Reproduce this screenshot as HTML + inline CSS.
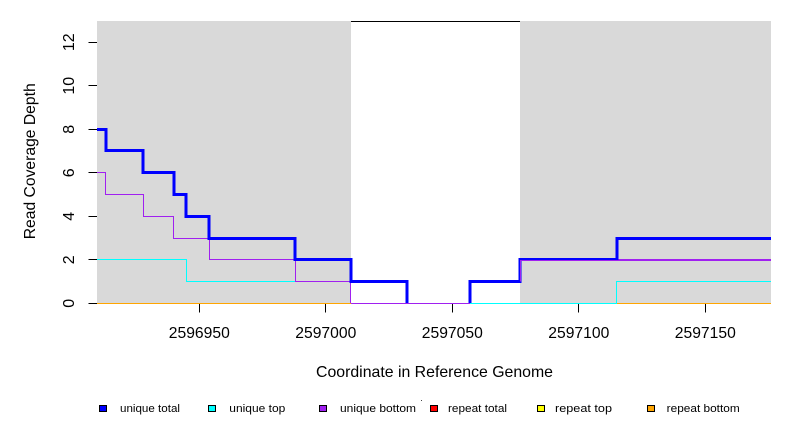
<!DOCTYPE html>
<html>
<head>
<meta charset="utf-8">
<style>
html,body{margin:0;padding:0;background:#fff;}
svg{display:block;}
text{font-family:"Liberation Sans", Arial, sans-serif;fill:#000;}
</style>
</head>
<body>
<svg width="792" height="432" viewBox="0 0 792 432" xmlns="http://www.w3.org/2000/svg">
  <!-- background regions -->
  <rect x="97" y="21" width="254" height="282" fill="#d9d9d9"/>
  <rect x="520" y="21" width="251" height="282" fill="#d9d9d9"/>
  <rect x="351" y="21" width="169" height="1" fill="#000"/>

  <g shape-rendering="crispEdges">
  <!-- unique top (cyan) -->
  <path d="M97,259.5 H186.5 V281.5 H406.5 V303.5 H616.5 V281.5 H771" fill="none" stroke="#00ffff" stroke-width="1"/>
  <!-- unique bottom (purple) -->
  <path d="M97,172.5 H105.5 V194.5 H143.5 V216.5 H173.5 V238.5 H209.5 V259.5 H295.5 V281.5 H350.5 V303.5 H470 V281.5 H520.5 V259.5 H771" fill="none" stroke="#a020f0" stroke-width="1"/>
  <!-- unique total (blue) -->
  <path d="M97,129.5 H106 V150.5 H143 V172.5 H174 V194.5 H186 V216.5 H209 V238.5 H295 V259.5 H351 V281.5 H407 V303" fill="none" stroke="#0000ff" stroke-width="3" stroke-linejoin="miter" stroke-linecap="butt"/>
  <path d="M470,303 V281.5 H520 V259.5 H617 V238.5 H771" fill="none" stroke="#0000ff" stroke-width="3" stroke-linejoin="miter" stroke-linecap="butt"/>
  <!-- purple overlay on right step -->
  <path d="M520.5,281.5 V260.5 H771" fill="none" stroke="#a020f0" stroke-width="1"/>
  </g>

  <!-- bottom line pieces -->
  <rect x="97" y="303" width="254" height="1" fill="#ffa500"/>
  <rect x="351" y="303" width="119" height="1" fill="#a020f0"/>
  <rect x="470" y="303" width="147" height="1" fill="#00ffff"/>
  <rect x="617" y="303" width="154" height="1" fill="#ffa500"/>

  <!-- y ticks -->
  <g stroke="#000" stroke-width="1" shape-rendering="crispEdges">
    <line x1="88.5" y1="303.5" x2="97" y2="303.5"/>
    <line x1="88.5" y1="259.5" x2="97" y2="259.5"/>
    <line x1="88.5" y1="216.5" x2="97" y2="216.5"/>
    <line x1="88.5" y1="172.5" x2="97" y2="172.5"/>
    <line x1="88.5" y1="129.5" x2="97" y2="129.5"/>
    <line x1="88.5" y1="85.5" x2="97" y2="85.5"/>
    <line x1="88.5" y1="42.5" x2="97" y2="42.5"/>
  </g>
  <g font-size="16" text-anchor="middle">
    <text transform="translate(74,303.25) rotate(-90)">0</text>
    <text transform="translate(74,259.75) rotate(-90)">2</text>
    <text transform="translate(74,216.25) rotate(-90)">4</text>
    <text transform="translate(74,172.75) rotate(-90)">6</text>
    <text transform="translate(74,129.25) rotate(-90)">8</text>
    <text transform="translate(74,85.75) rotate(-90)">10</text>
    <text transform="translate(74,42.25) rotate(-90)">12</text>
  </g>
  <text transform="translate(35,161.3) rotate(-90)" font-size="16" text-anchor="middle" textLength="156" lengthAdjust="spacingAndGlyphs">Read Coverage Depth</text>

  <!-- x ticks -->
  <g stroke="#000" stroke-width="1" shape-rendering="crispEdges">
    <line x1="199.5" y1="304" x2="199.5" y2="312.5"/>
    <line x1="325.5" y1="304" x2="325.5" y2="312.5"/>
    <line x1="452.5" y1="304" x2="452.5" y2="312.5"/>
    <line x1="578.5" y1="304" x2="578.5" y2="312.5"/>
    <line x1="705.5" y1="304" x2="705.5" y2="312.5"/>
  </g>
  <g font-size="16" text-anchor="middle">
    <text x="199.3" y="338" textLength="61" lengthAdjust="spacingAndGlyphs">2596950</text>
    <text x="325.8" y="338" textLength="61" lengthAdjust="spacingAndGlyphs">2597000</text>
    <text x="452.3" y="338" textLength="61" lengthAdjust="spacingAndGlyphs">2597050</text>
    <text x="578.8" y="338" textLength="61" lengthAdjust="spacingAndGlyphs">2597100</text>
    <text x="705.3" y="338" textLength="61" lengthAdjust="spacingAndGlyphs">2597150</text>
  </g>
  <text x="434.5" y="377" font-size="16" text-anchor="middle" textLength="237" lengthAdjust="spacingAndGlyphs">Coordinate in Reference Genome</text>

  <!-- legend -->
  <g stroke="#000" stroke-width="1" shape-rendering="crispEdges">
    <rect x="99.5" y="405.5" width="7" height="6" fill="#0000ff"/>
    <rect x="208.5" y="405.5" width="7" height="6" fill="#00ffff"/>
    <rect x="319.5" y="405.5" width="7" height="6" fill="#a020f0"/>
    <rect x="430.5" y="405.5" width="7" height="6" fill="#ff0000"/>
    <rect x="537.5" y="405.5" width="7" height="6" fill="#ffff00"/>
    <rect x="647.5" y="405.5" width="7" height="6" fill="#ffa500"/>
  </g>
  <rect x="421" y="400" width="1" height="1" fill="#444"/>
  <g font-size="11">
    <text x="120" y="412" textLength="60" lengthAdjust="spacingAndGlyphs">unique total</text>
    <text x="229.3" y="412" textLength="56" lengthAdjust="spacingAndGlyphs">unique top</text>
    <text x="340" y="412" textLength="76" lengthAdjust="spacingAndGlyphs">unique bottom</text>
    <text x="448" y="412" textLength="59" lengthAdjust="spacingAndGlyphs">repeat total</text>
    <text x="555" y="412" textLength="57" lengthAdjust="spacingAndGlyphs">repeat top</text>
    <text x="666.7" y="412" textLength="73" lengthAdjust="spacingAndGlyphs">repeat bottom</text>
  </g>
</svg>
</body>
</html>
